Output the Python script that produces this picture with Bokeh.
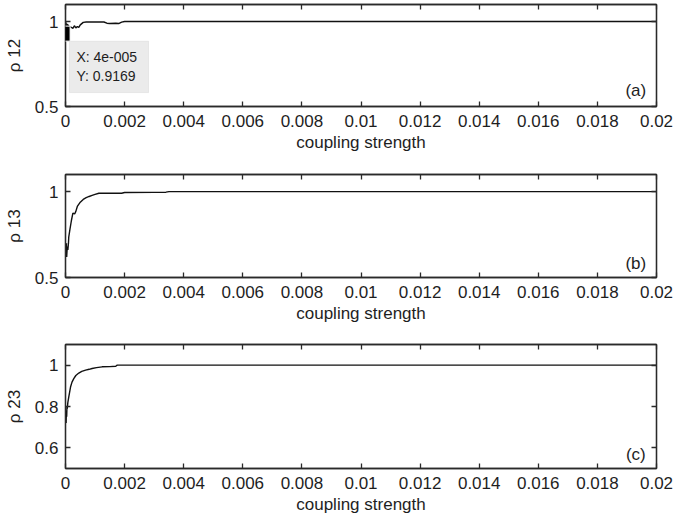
from bokeh.plotting import figure
from bokeh.models import (Range1d, FixedTicker, LinearAxis, Label, BoxAnnotation)
from bokeh.layouts import column
from bokeh.embed import file_html
from bokeh.resources import INLINE

# ---------------- data ----------------
xa = [0, 0.00002, 0.00004, 0.00006, 0.0001, 0.00015, 0.0002, 0.00025, 0.0003, 0.00035,
      0.0004, 0.00045, 0.0005, 0.0006, 0.0007, 0.001, 0.0013, 0.0014, 0.0015, 0.0017,
      0.0018, 0.0019, 0.002, 0.005, 0.01, 0.02]
ya = [0.995, 0.99, 0.9169, 0.985, 0.975, 0.968, 0.965, 0.96, 0.975, 0.962,
      0.97, 0.965, 0.98, 0.995, 0.997, 0.997, 0.997, 0.99, 0.988, 0.99,
      0.988, 0.996, 1.0, 1.0, 1.0, 1.0]

xb = [0, 0.00002, 0.00003, 0.00004, 0.00006, 0.00008, 0.0001, 0.00011, 0.00015, 0.0002,
      0.00025, 0.00031, 0.00035, 0.0004, 0.0005, 0.0006, 0.0007, 0.0008, 0.0009, 0.001,
      0.00113, 0.0015, 0.0019, 0.002, 0.003, 0.0034, 0.0035, 0.005, 0.01, 0.02]
yb = [0.66, 0.64, 0.70, 0.62, 0.68, 0.66, 0.70, 0.735, 0.78, 0.832,
      0.875, 0.87, 0.885, 0.914, 0.939, 0.955, 0.965, 0.972, 0.978, 0.984,
      0.991, 0.991, 0.991, 0.995, 0.996, 0.997, 1.0, 1.0, 1.0, 1.0]

xc = [0, 0.00002, 0.00003, 0.00004, 0.00005, 0.00006, 0.00008, 0.00011, 0.00017, 0.00022,
      0.00028, 0.00035, 0.00045, 0.00055, 0.00068, 0.0008, 0.0009, 0.00105, 0.00124, 0.0015,
      0.0017, 0.00175, 0.005, 0.01, 0.02]
yc = [0.74, 0.72, 0.78, 0.75, 0.80, 0.79, 0.82, 0.845, 0.894, 0.918,
      0.935, 0.95, 0.962, 0.97, 0.976, 0.98, 0.984, 0.988, 0.992, 0.993,
      0.995, 1.0, 1.0, 1.0, 1.0]

x_ticks = [0, 0.002, 0.004, 0.006, 0.008, 0.01, 0.012, 0.014, 0.016, 0.018, 0.02]
x_tick_labels = ["0", "0.002", "0.004", "0.006", "0.008", "0.01", "0.012", "0.014",
                 "0.016", "0.018", "0.02"]
y_ticks_ab = [0.5, 1.0]
y_tick_labels_ab = ["0.5", "1"]
y_ticks_c = [0.6, 0.8, 1.0]
y_tick_labels_c = ["0.6", "0.8", "1"]

y_labels = ["\u03c1 12", "\u03c1 13", "\u03c1 23"]
panel_tags = ["(a)", "(b)", "(c)"]
x_label = "coupling strength"

tip_x = [0.00004]
tip_y = [0.9169]
tip_text = ["X: 4e-005", "Y: 0.9169"]

# ---------------- style ----------------
FONT = "Liberation Sans"
TXT = "#1e1e1e"
AX = "#2a2a2a"
FS = "17px"


def style_axis(ax, ticks, labels, standoff):
    ax.ticker = FixedTicker(ticks=ticks)
    ax.major_label_overrides = {t: l for t, l in zip(ticks, labels)}
    ax.major_tick_in = 5
    ax.major_tick_out = 0
    ax.minor_tick_line_color = None
    ax.axis_line_color = AX
    ax.axis_line_width = 1.3
    ax.major_tick_line_color = AX
    ax.major_tick_line_width = 1.3
    ax.major_label_text_font = FONT
    ax.major_label_text_font_size = FS
    ax.major_label_text_color = TXT
    ax.major_label_standoff = standoff
    ax.axis_label_text_font = FONT
    ax.axis_label_text_font_size = FS
    ax.axis_label_text_font_style = "normal"
    ax.axis_label_text_color = TXT


def make_panel(xs, ys, height, border_top, border_bottom, yticks, ylabels, ylab, tag, tag_xy):
    p = figure(width=673, height=height, output_backend="svg", toolbar_location=None,
               x_range=Range1d(0, 0.02), y_range=Range1d(0.5, 1.1),
               min_border_left=65, min_border_right=17,
               min_border_top=border_top, min_border_bottom=border_bottom,
               background_fill_color="white", border_fill_color="white")
    p.grid.visible = False
    p.outline_line_color = AX
    p.outline_line_width = 1.3
    style_axis(p.xaxis[0], x_ticks, x_tick_labels, 8)
    style_axis(p.yaxis[0], yticks, ylabels, 7)
    p.xaxis[0].axis_label = x_label
    p.xaxis[0].axis_label_standoff = 3
    p.yaxis[0].axis_label = ylab
    p.yaxis[0].axis_label_standoff = 8

    top = LinearAxis()
    right = LinearAxis()
    for ax, ticks in ((top, x_ticks), (right, yticks)):
        style_axis(ax, ticks, ["" for _ in ticks], 0)
        ax.major_label_text_font_size = "0px"
    p.add_layout(top, "above")
    p.add_layout(right, "right")

    p.line(xs, ys, line_color="#111111", line_width=1.4)
    p.add_layout(Label(x=tag_xy[0], y=tag_xy[1], text=tag, text_align="center",
                       text_baseline="middle", text_font=FONT, text_font_size=FS,
                       text_color=TXT))
    return p


pa = make_panel(xa, ya, 160, 4, 54, y_ticks_ab, y_tick_labels_ab, y_labels[0],
                panel_tags[0], (0.0193, 0.594))
pb = make_panel(xb, yb, 170, 14, 53, y_ticks_ab, y_tick_labels_ab, y_labels[1],
                panel_tags[1], (0.0193, 0.58))
pc = make_panel(xc, yc, 192, 14, 54, y_ticks_c, y_tick_labels_c, y_labels[2],
                panel_tags[2], (0.0193, 0.57))

# datatip on panel (a)
pa.add_layout(BoxAnnotation(left=0.000135, right=0.00281, top=0.884, bottom=0.582,
                            fill_color="#ebebeb", fill_alpha=1.0,
                            line_color="#c4c4c4", line_width=1, level="underlay"))
# datatip marker: a black square box
pa.add_layout(Label(x=tip_x[0], y=tip_y[0], x_offset=-2, y_offset=2,
                    text="\u00a0\u00a0\u00a0",
                    text_align="center", text_baseline="middle",
                    text_font=FONT, text_font_size="13px", text_line_height=0.8,
                    background_fill_color="black", background_fill_alpha=1.0,
                    border_line_color="white", border_line_width=1, padding=0,
                    level="overlay"))
pa.add_layout(Label(x=0.00037, y=0.79, text=tip_text[0], text_align="left",
                    text_baseline="middle", text_font=FONT, text_font_size="14px",
                    text_color=TXT))
pa.add_layout(Label(x=0.00037, y=0.678, text=tip_text[1], text_align="left",
                    text_baseline="middle", text_font=FONT, text_font_size="14px",
                    text_color=TXT))

layout = column(pa, pb, pc, spacing=0)
open("out.html", "w").write(file_html(layout, INLINE))
